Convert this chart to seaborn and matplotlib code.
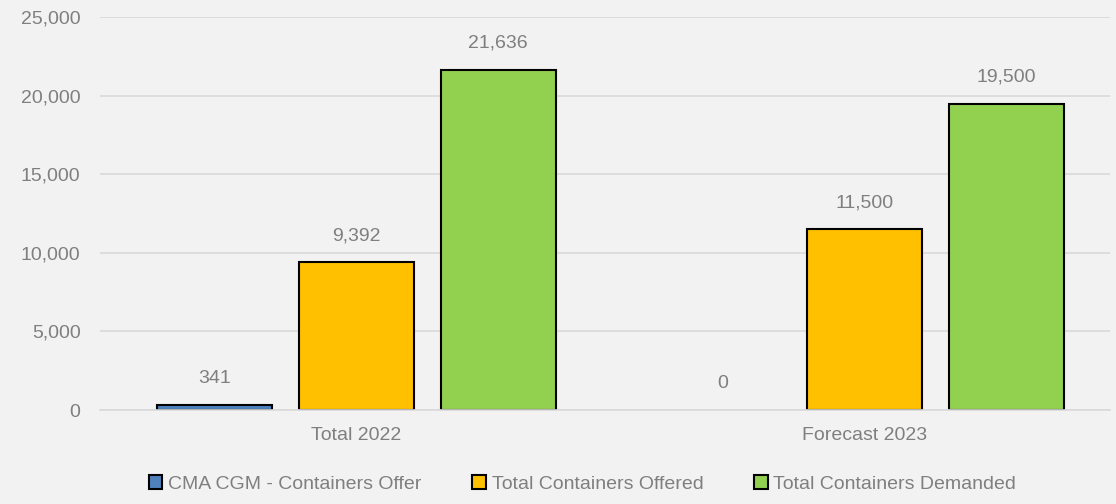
import matplotlib.pyplot as plt
import pandas as pd
import seaborn as sns
from matplotlib.patches import Patch

categories = ["Total 2022", "Forecast 2023"]
series = ["CMA CGM - Containers Offer", "Total Containers Offered", "Total Containers Demanded"]
cma_cgm_offer = [341, 0]
total_offered = [9392, 11500]
total_demanded = [21636, 19500]
colors = ["#4F81BD", "#FFC000", "#92D050"]

df = pd.DataFrame({
    "category": categories * 3,
    "series": [s for s in series for _ in categories],
    "value": cma_cgm_offer + total_offered + total_demanded,
})

sns.set_theme(style="white")
plt.rcParams["font.family"] = ["Liberation Sans Narrow", "Liberation Sans", "DejaVu Sans"]
text_color = "#7F7F7F"
bg = "#F2F2F2"

fig = plt.figure(figsize=(11.16, 5.04), dpi=100, facecolor=bg)
ax = fig.add_axes([0.0896, 0.1865, 0.905, 0.7795])
ax.set_facecolor(bg)

sns.barplot(data=df, x="category", y="value", hue="series", hue_order=series,
            palette=colors, saturation=1, width=0.837, gap=0.19, edgecolor="black",
            linewidth=1.5, legend=False, ax=ax)

# empty bars get no outline
for patch in ax.patches:
    if patch.get_height() == 0:
        patch.set_linewidth(0)

for container in ax.containers:
    ax.bar_label(container, labels=[f"{v:,.0f}" for v in container.datavalues],
                 padding=13, color=text_color, fontsize=14)

ax.set_ylim(0, 25000)
ax.set_xlim(-0.505, 1.483)
ax.set_yticks(range(0, 25001, 5000))
ax.set_yticklabels([f"{v:,}" for v in range(0, 25001, 5000)])
ax.yaxis.grid(True, color="#D9D9D9", linewidth=1.2)
ax.set_axisbelow(True)
for side in ["top", "right", "left"]:
    ax.spines[side].set_visible(False)
ax.spines["bottom"].set_color("#D9D9D9")
ax.spines["bottom"].set_linewidth(1.2)
ax.tick_params(axis="both", length=0, colors=text_color, labelsize=14)
ax.tick_params(axis="y", pad=14)
ax.tick_params(axis="x", pad=12)
ax.set_xlabel("")
ax.set_ylabel("")

handles = [Patch(facecolor=c, edgecolor="black", linewidth=1.5) for c in colors]
fig.legend(handles, series, loc="lower center", bbox_to_anchor=(0.522, -0.012), ncol=3,
           frameon=False, fontsize=14, labelcolor=text_color, handlelength=0.7,
           handleheight=0.7, handletextpad=0.3, columnspacing=2.6)

fig.savefig("out.png", dpi=100, facecolor=bg)
